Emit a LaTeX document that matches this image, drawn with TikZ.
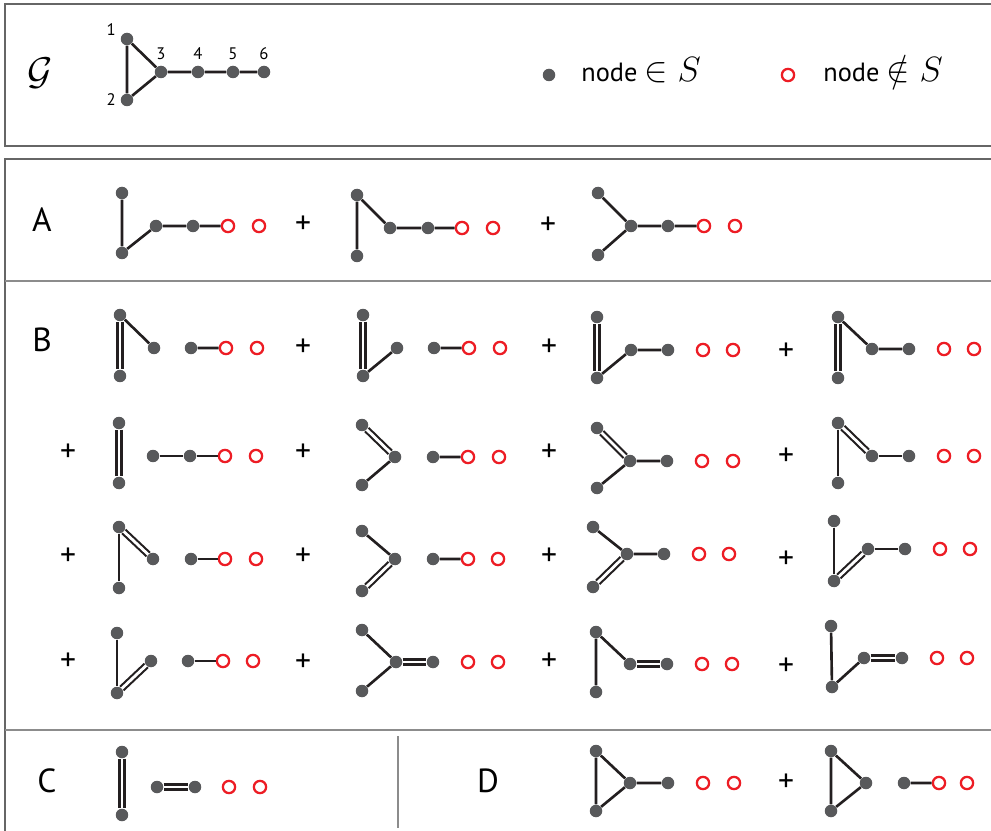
\RequirePackage{fix-cm}
\documentclass[tikz,border=0pt]{standalone}
\usepackage{amsmath}
\usepackage{amssymb}
\usepackage{fontspec}
\setmainfont{PT Sans}

\definecolor{dotgray}{HTML}{58595B}
\definecolor{ringred}{HTML}{ED1C24}
\definecolor{bondblack}{HTML}{231F20}

\begin{document}
\begin{tikzpicture}[x=0.02cm, y=-0.02cm,
  dot/.style={circle, fill=dotgray, minimum size=0.25cm, inner sep=0pt},
  hole/.style={circle, draw=ringred, line width=1.3pt, minimum size=0.245cm, inner sep=0pt},
  bond/.style={draw=bondblack, line width=1.5pt},
  dbond/.style={draw=bondblack, line width=1.2pt, double=white, double distance=1.6pt},
  plus/.style={font=\fontsize{18}{20}\selectfont, inner sep=0pt},
  sec/.style={font=\fontsize{19}{22}\selectfont, inner sep=0pt},
  num/.style={font=\fontsize{9.5}{11}\selectfont, inner sep=1pt},
  key/.style={anchor=base west, inner sep=0pt, font=\fontsize{15}{18}\selectfont},
  panel/.style={draw=black!60, line width=1.1pt},
  divider/.style={draw=black!45, line width=1.1pt}]
  \useasboundingbox (0,0) rectangle (991,831);
  \fill[white] (0,0) rectangle (991,831);
  % graph G and legend
  \draw[panel] (5,4) rectangle (1000,146);
  \node[font=\fontsize{22}{24}\selectfont] (gname) at (40,73) {$\mathcal{G}$};
  \node[dot, label={[num, label distance=1.5pt]170:1}] (g1) at (127,39) {};
  \node[dot, label={[num, label distance=1.5pt]left:2}] (g2) at (127,100) {};
  \foreach \i/\xx in {3/161, 4/198, 5/233, 6/264}
    \node[dot, label={[num, label distance=2pt]above:\i}] (g\i) at (\xx,72) {};
  \draw[bond] (g1) -- (g2) -- (g3) -- (g1) (g3) -- (g4) -- (g5) -- (g6);
  \node[dot] (kin) at (549,75) {};
  \node[key] (kintext) at (581,82) {node\ {\fontsize{20}{22}\selectfont$\in S$}};
  \node[hole] (kout) at (788,75) {};
  \node[key] (kouttext) at (823,82) {node\ {\fontsize{20}{22}\selectfont$\notin S$}};
  % frame of the terms
  \draw[panel] (5,159) rectangle (1000,840);
  \draw[divider] (5,281) -- (1000,281) (5,730) -- (1000,730) (398,736) -- (398,828);
  % A
  \node[sec] (secA) at (42,220) {A};
  \node[dot] (aa1) at (122,193) {}; \node[dot] (aa2) at (122,253) {}; \node[dot] (aa3) at (156,226) {};
  \node[dot] (aa4) at (193,226) {}; \node[hole] (aa5) at (228,226) {}; \node[hole] (aa6) at (259,226) {};
  \draw[bond] (aa1) -- (aa2) -- (aa3) -- (aa4) -- (aa5);
  \node[plus] (pa1) at (303,225) {+};
  \node[dot] (ab1) at (357,195) {}; \node[dot] (ab2) at (357,256) {}; \node[dot] (ab3) at (390,228) {};
  \node[dot] (ab4) at (428,228) {}; \node[hole] (ab5) at (462,228) {}; \node[hole] (ab6) at (493,228) {};
  \draw[bond] (ab2) -- (ab1) -- (ab3) -- (ab4) -- (ab5);
  \node[plus] (pa2) at (548,226) {+};
  \node[dot] (ac1) at (598,193) {}; \node[dot] (ac2) at (598,255) {}; \node[dot] (ac3) at (631,226) {};
  \node[dot] (ac4) at (668,226) {}; \node[hole] (ac5) at (704,226) {}; \node[hole] (ac6) at (735,226) {};
  \draw[bond] (ac1) -- (ac3) (ac2) -- (ac3) -- (ac4) -- (ac5);
  % B, first row
  \node[sec] (secB) at (42,340) {B};
  \node[dot] (ba1) at (120,315) {}; \node[dot] (ba2) at (120,376) {}; \node[dot] (ba3) at (154,348) {};
  \node[dot] (ba4) at (191,348) {}; \node[hole] (ba5) at (226,348) {}; \node[hole] (ba6) at (257,348) {};
  \draw[dbond] (ba1) -- (ba2);
  \draw[bond] (ba1) -- (ba3) (ba4) -- (ba5);
  \node[plus] (pb1) at (303,348) {+};
  \node[dot] (bb1) at (363,315) {}; \node[dot] (bb2) at (363,376) {}; \node[dot] (bb3) at (397,348) {};
  \node[dot] (bb4) at (434,348) {}; \node[hole] (bb5) at (469,348) {}; \node[hole] (bb6) at (500,348) {};
  \draw[dbond] (bb1) -- (bb2);
  \draw[bond] (bb2) -- (bb3) (bb4) -- (bb5);
  \node[plus] (pb2) at (549,348) {+};
  \node[dot] (bc1) at (597,317) {}; \node[dot] (bc2) at (597,378) {}; \node[dot] (bc3) at (631,350) {};
  \node[dot] (bc4) at (668,350) {}; \node[hole] (bc5) at (703,350) {}; \node[hole] (bc6) at (733,350) {};
  \draw[dbond] (bc1) -- (bc2);
  \draw[bond] (bc2) -- (bc3) -- (bc4);
  \node[plus] (pb3) at (786,352) {+};
  \node[dot] (bd1) at (838,317) {}; \node[dot] (bd2) at (838,378) {}; \node[dot] (bd3) at (872,349) {};
  \node[dot] (bd4) at (909,349) {}; \node[hole] (bd5) at (944,349) {}; \node[hole] (bd6) at (974,349) {};
  \draw[dbond] (bd1) -- (bd2);
  \draw[bond] (bd1) -- (bd3) -- (bd4);
  % B, second row
  \node[plus] (pb4) at (68,453) {+};
  \node[dot] (be1) at (119,423) {}; \node[dot] (be2) at (119,483) {}; \node[dot] (be3) at (153,456) {};
  \node[dot] (be4) at (190,456) {}; \node[hole] (be5) at (225,456) {}; \node[hole] (be6) at (256,456) {};
  \draw[dbond] (be1) -- (be2);
  \draw[bond] (be3) -- (be4) -- (be5);
  \node[plus] (pb5) at (303,453) {+};
  \node[dot] (bf1) at (362,425) {}; \node[dot] (bf2) at (362,485) {}; \node[dot] (bf3) at (395,457) {};
  \node[dot] (bf4) at (433,457) {}; \node[hole] (bf5) at (468,457) {}; \node[hole] (bf6) at (499,457) {};
  \draw[dbond] (bf1) -- (bf3);
  \draw[bond] (bf2) -- (bf3) (bf4) -- (bf5);
  \node[plus] (pb6) at (549,453) {+};
  \node[dot] (bg1) at (597,428) {}; \node[dot] (bg2) at (597,488) {}; \node[dot] (bg3) at (630,461) {};
  \node[dot] (bg4) at (667,461) {}; \node[hole] (bg5) at (702,461) {}; \node[hole] (bg6) at (733,461) {};
  \draw[dbond] (bg1) -- (bg3);
  \draw[bond] (bg2) -- (bg3) -- (bg4);
  \node[plus] (pb7) at (786,457) {+};
  \node[dot] (bh1) at (838,423) {}; \node[dot] (bh2) at (838,483) {}; \node[dot] (bh3) at (872,456) {};
  \node[dot] (bh4) at (909,456) {}; \node[hole] (bh5) at (944,456) {}; \node[hole] (bh6) at (974,456) {};
  \draw[dbond] (bh1) -- (bh3);
  \draw[bond] (bh1) -- (bh2) (bh3) -- (bh4);
  % B, third row
  \node[plus] (pb8) at (68,557) {+};
  \node[dot] (bi1) at (119,527) {}; \node[dot] (bi2) at (119,588) {}; \node[dot] (bi3) at (153,559) {};
  \node[dot] (bi4) at (191,559) {}; \node[hole] (bi5) at (225,559) {}; \node[hole] (bi6) at (256,559) {};
  \draw[dbond] (bi1) -- (bi3);
  \draw[bond] (bi1) -- (bi2) (bi4) -- (bi5);
  \node[plus] (pb9) at (303,557) {+};
  \node[dot] (bj1) at (362,531) {}; \node[dot] (bj2) at (362,591) {}; \node[dot] (bj3) at (395,559) {};
  \node[dot] (bj4) at (433,559) {}; \node[hole] (bj5) at (468,559) {}; \node[hole] (bj6) at (498,559) {};
  \draw[dbond] (bj2) -- (bj3);
  \draw[bond] (bj1) -- (bj3) (bj4) -- (bj5);
  \node[plus] (pb10) at (549,557) {+};
  \node[dot] (bk1) at (593,527) {}; \node[dot] (bk2) at (593,587) {}; \node[dot] (bk3) at (627,554) {};
  \node[dot] (bk4) at (664,554) {}; \node[hole] (bk5) at (699,554) {}; \node[hole] (bk6) at (729,554) {};
  \draw[dbond] (bk2) -- (bk3);
  \draw[bond] (bk1) -- (bk3) -- (bk4);
  \node[plus] (pb11) at (786,560) {+};
  \node[dot] (bl1) at (834,521) {}; \node[dot] (bl2) at (834,581) {}; \node[dot] (bl3) at (868,549) {};
  \node[dot] (bl4) at (905,549) {}; \node[hole] (bl5) at (940,549) {}; \node[hole] (bl6) at (970,549) {};
  \draw[dbond] (bl2) -- (bl3);
  \draw[bond] (bl1) -- (bl2) (bl3) -- (bl4);
  % B, fourth row
  \node[plus] (pb12) at (68,662) {+};
  \node[dot] (bm1) at (117,633) {}; \node[dot] (bm2) at (117,693) {}; \node[dot] (bm3) at (151,661) {};
  \node[dot] (bm4) at (188,661) {}; \node[hole] (bm5) at (223,661) {}; \node[hole] (bm6) at (253,661) {};
  \draw[dbond] (bm2) -- (bm3);
  \draw[bond] (bm1) -- (bm2) (bm4) -- (bm5);
  \node[plus] (pb13) at (303,663) {+};
  \node[dot] (bn1) at (362,630) {}; \node[dot] (bn2) at (362,691) {}; \node[dot] (bn3) at (396,662) {};
  \node[dot] (bn4) at (433,662) {}; \node[hole] (bn5) at (468,662) {}; \node[hole] (bn6) at (498,662) {};
  \draw[dbond] (bn3) -- (bn4);
  \draw[bond] (bn1) -- (bn3) (bn2) -- (bn3);
  \node[plus] (pb14) at (549,662) {+};
  \node[dot] (bo1) at (596,632) {}; \node[dot] (bo2) at (596,692) {}; \node[dot] (bo3) at (630,664) {};
  \node[dot] (bo4) at (667,664) {}; \node[hole] (bo5) at (702,664) {}; \node[hole] (bo6) at (732,664) {};
  \draw[dbond] (bo3) -- (bo4);
  \draw[bond] (bo2) -- (bo1) -- (bo3);
  \node[plus] (pb15) at (786,667) {+};
  \node[dot] (bp1) at (831,626) {}; \node[dot] (bp2) at (832,687) {}; \node[dot] (bp3) at (864,658) {};
  \node[dot] (bp4) at (902,658) {}; \node[hole] (bp5) at (937,658) {}; \node[hole] (bp6) at (967,658) {};
  \draw[dbond] (bp3) -- (bp4);
  \draw[bond] (bp1) -- (bp2) -- (bp3);
  % C
  \node[sec] (secC) at (47,781) {C};
  \node[dot] (ca1) at (122,752) {}; \node[dot] (ca2) at (122,815) {}; \node[dot] (ca3) at (157,787) {};
  \node[dot] (ca4) at (195,787) {}; \node[hole] (ca5) at (229,787) {}; \node[hole] (ca6) at (260,787) {};
  \draw[dbond] (ca1) -- (ca2) (ca3) -- (ca4);
  % D
  \node[sec] (secD) at (488,781) {D};
  \node[dot] (da1) at (596,751) {}; \node[dot] (da2) at (596,811) {}; \node[dot] (da3) at (630,783) {};
  \node[dot] (da4) at (668,783) {}; \node[hole] (da5) at (703,783) {}; \node[hole] (da6) at (734,783) {};
  \draw[bond] (da1) -- (da2) -- (da3) -- (da1) (da3) -- (da4);
  \node[plus] (pd1) at (786,783) {+};
  \node[dot] (db1) at (831,751) {}; \node[dot] (db2) at (831,811) {}; \node[dot] (db3) at (866,783) {};
  \node[dot] (db4) at (904,783) {}; \node[hole] (db5) at (939,783) {}; \node[hole] (db6) at (967,783) {};
  \draw[bond] (db1) -- (db2) -- (db3) -- (db1) (db4) -- (db5);
\end{tikzpicture}
\end{document}
